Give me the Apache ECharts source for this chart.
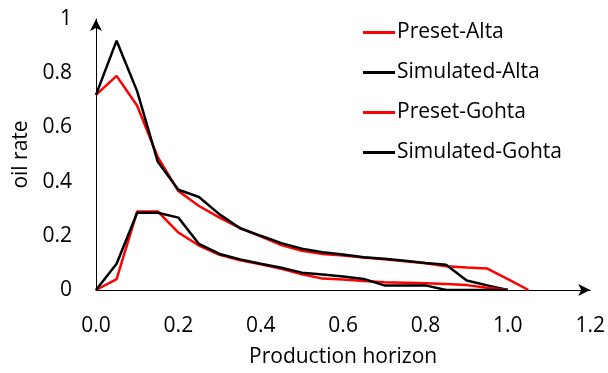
<!DOCTYPE html>
<html lang="en">
<head>
    <meta charset="utf-8">
    <title>oil rate</title>
    <script src="https://cdn.jsdelivr.net/npm/echarts@6/dist/echarts.min.js"></script>
    <style>
        html, body { margin: 0; padding: 0; background: #fff; }
        #chart { width: 608px; height: 373px; }
    </style>
</head>
<body>
<div id="chart"></div>
<script type="text/javascript">
    // production horizon (x) and oil rate (y)
    var xPresetAlta = [0, 0.05, 0.1, 0.15, 0.2, 0.25, 0.3, 0.35, 0.4, 0.45, 0.5, 0.55, 0.6, 0.65, 0.7, 0.75, 0.8, 0.85, 0.9, 0.95, 1.0, 1.05];
    var yPresetAlta = [0.72, 0.79, 0.68, 0.49, 0.365, 0.31, 0.267, 0.228, 0.198, 0.166, 0.145, 0.133, 0.127, 0.12, 0.113, 0.106, 0.099, 0.088, 0.083, 0.079, 0.04, 0];

    var xSimAlta = [0, 0.05, 0.1, 0.15, 0.2, 0.25, 0.3, 0.35, 0.4, 0.45, 0.5, 0.55, 0.6, 0.65, 0.7, 0.75, 0.8, 0.85, 0.9, 0.95, 1.0];
    var ySimAlta = [0.72, 0.92, 0.733, 0.473, 0.37, 0.343, 0.279, 0.228, 0.2, 0.173, 0.152, 0.139, 0.131, 0.121, 0.115, 0.108, 0.1, 0.093, 0.035, 0.017, 0];

    var xPresetGohta = [0, 0.05, 0.1, 0.15, 0.2, 0.25, 0.3, 0.35, 0.4, 0.45, 0.5, 0.55, 0.6, 0.65, 0.7, 0.75, 0.8, 0.85, 0.9, 0.95, 1.0];
    var yPresetGohta = [0, 0.04, 0.29, 0.29, 0.212, 0.164, 0.13, 0.11, 0.095, 0.078, 0.058, 0.042, 0.039, 0.033, 0.029, 0.027, 0.025, 0.022, 0.018, 0.008, 0];

    var xSimGohta = [0, 0.05, 0.1, 0.15, 0.2, 0.25, 0.3, 0.35, 0.4, 0.45, 0.5, 0.55, 0.6, 0.65, 0.7, 0.75, 0.8, 0.85, 0.9, 0.95, 1.0];
    var ySimGohta = [0, 0.097, 0.285, 0.285, 0.267, 0.17, 0.133, 0.113, 0.097, 0.082, 0.064, 0.057, 0.05, 0.041, 0.017, 0.017, 0.017, 0, 0, 0, 0];

    var seriesNames = ['Preset-Alta', 'Simulated-Alta', 'Preset-Gohta', 'Simulated-Gohta'];
    var seriesColors = ['#ff0000', '#000000', '#ff0000', '#000000'];

    function pairs(xs, ys) {
        var out = [];
        for (var i = 0; i < xs.length; i++) {
            out.push([xs[i], ys[i]]);
        }
        return out;
    }

    var allData = [
        pairs(xPresetAlta, yPresetAlta),
        pairs(xSimAlta, ySimAlta),
        pairs(xPresetGohta, yPresetGohta),
        pairs(xSimGohta, ySimGohta)
    ];

    var font = '"Open Sans", Lato, sans-serif';
    var series = [];
    for (var i = 0; i < seriesNames.length; i++) {
        series.push({
            name: seriesNames[i],
            type: 'line',
            data: allData[i],
            symbol: 'none',
            color: seriesColors[i],
            lineStyle: { color: seriesColors[i], width: 2.5 },
            animation: false
        });
    }

    var myChart = echarts.init(document.getElementById('chart'), null, { renderer: 'canvas' });
    var option = {
        backgroundColor: '#ffffff',
        textStyle: { fontFamily: font, color: '#000' },
        grid: { left: 96, right: 17, top: 19, bottom: 79, containLabel: false },
        legend: {
            orient: 'vertical',
            left: 358,
            top: 17,
            icon: 'rect',
            itemWidth: 32,
            itemHeight: 3,
            itemGap: 19,
            data: seriesNames,
            textStyle: { fontFamily: font, fontSize: 21, color: '#000', padding: [0, 0, 0, -3] }
        },
        xAxis: {
            type: 'value',
            min: 0,
            max: 1.2,
            interval: 0.2,
            name: 'Production horizon',
            nameLocation: 'middle',
            nameGap: 57,
            nameTextStyle: { fontFamily: font, fontSize: 21, color: '#000' },
            axisLine: { show: true, symbol: ['none', 'arrow'], symbolSize: [9, 12], lineStyle: { color: '#000', width: 1 } },
            axisTick: { show: false },
            splitLine: { show: false },
            axisLabel: {
                margin: 26,
                fontFamily: font, fontSize: 21, color: '#000',
                formatter: function (v) { return v.toFixed(1); }
            }
        },
        yAxis: {
            type: 'value',
            min: 0,
            max: 1,
            interval: 0.2,
            name: 'oil rate',
            nameLocation: 'middle',
            nameGap: 62,
            nameTextStyle: { fontFamily: font, fontSize: 21, color: '#000' },
            axisLine: { show: true, symbol: ['none', 'arrow'], symbolSize: [9, 12], lineStyle: { color: '#000', width: 1 } },
            axisTick: { show: false },
            splitLine: { show: false },
            axisLabel: {
                margin: 24,
                fontFamily: font, fontSize: 21, color: '#000',
                formatter: function (v) { return (v === 0 || v === 1) ? String(v) : v.toFixed(1); }
            }
        },
        series: series
    };
    myChart.setOption(option);
</script>
</body>
</html>
